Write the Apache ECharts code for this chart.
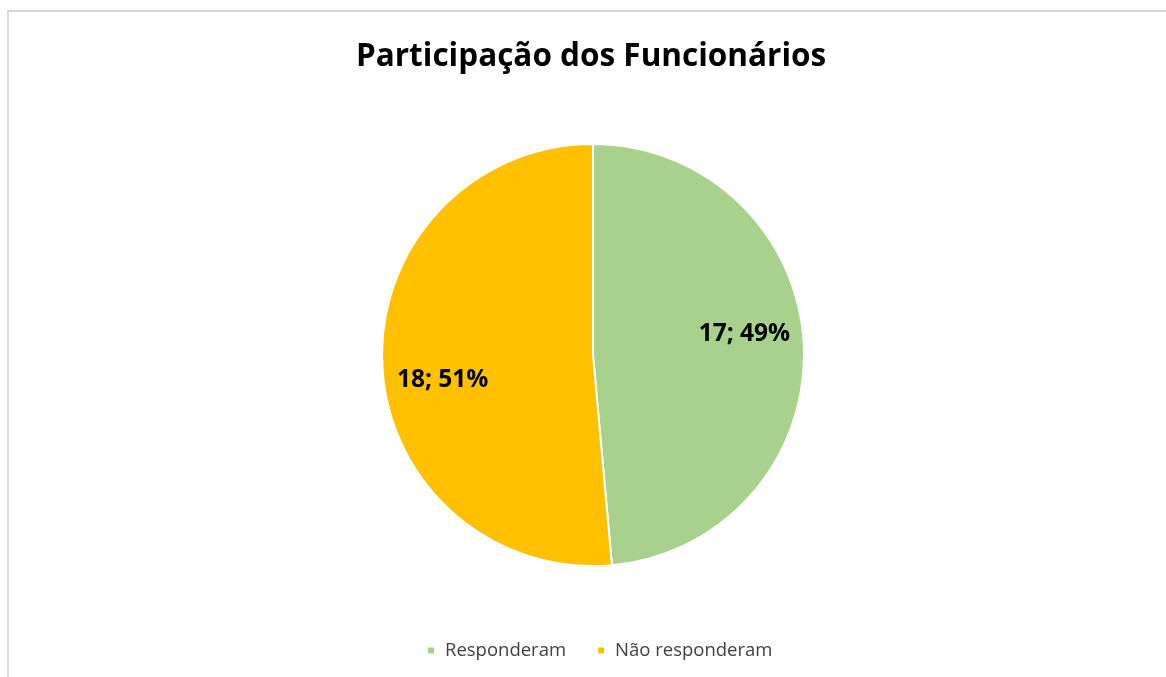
<!DOCTYPE html>
<html>
<head>
<meta charset="utf-8">
<script src="https://cdn.jsdelivr.net/npm/echarts@6/dist/echarts.min.js"></script>
<style>
  body { margin: 0; background: #fff; }
  #frame { position: absolute; left: 7px; top: 10px; width: 1200px; height: 720px; border: 2px solid #d9d9d9; }
  #mainChart { position: absolute; left: 0; top: 0; width: 1166px; height: 677px; }
</style>
</head>
<body>
<div id="frame"></div>
<div id="mainChart"></div>
<script>
var categories = ["Responderam", "Não responderam"];
var values = [17, 18];
var colors = ["#A9D18E", "#FFC000"];

var chart = echarts.init(document.getElementById("mainChart"));
var total = values[0] + values[1];

var option = {
  title: {
    text: "Participação dos Funcionários",
    left: 351,
    top: 36,
    textStyle: {
      fontFamily: "Open Sans",
      fontSize: 31.5,
      fontWeight: "bold",
      color: "#000",
    },
  },
  legend: {
    bottom: 12,
    left: 421,
    icon: "rect",
    itemWidth: 8,
    itemHeight: 8,
    itemGap: 30,
    textStyle: {
      fontFamily: "Open Sans",
      fontSize: 18.5,
      color: "#404040",
      padding: [0, 0, 0, 5],
    },
    data: categories,
  },
  series: [
    {
      type: "pie",
      center: [593, 355],
      radius: [0, 211],
      startAngle: 90,
      clockwise: true,
      animation: false,
      itemStyle: {
        borderColor: "#fff",
        borderWidth: 2,
      },
      label: {
        position: "inside",
        fontFamily: "Open Sans",
        fontSize: 24.5,
        fontWeight: "bold",
        color: "#000",
        formatter: function (p) {
          return p.value + "; " + Math.round((p.value / total) * 100) + "%";
        },
      },
      labelLayout: function (p) {
        // nudge toward Excel's label spots
        return p.dataIndex === 0 ? { dx: 43, dy: -16 } : { dx: -42, dy: 20 };
      },
      data: categories.map(function (name, i) {
        return { name: name, value: values[i], itemStyle: { color: colors[i] } };
      }),
    },
  ],
};
chart.setOption(option);
</script>
</body>
</html>
